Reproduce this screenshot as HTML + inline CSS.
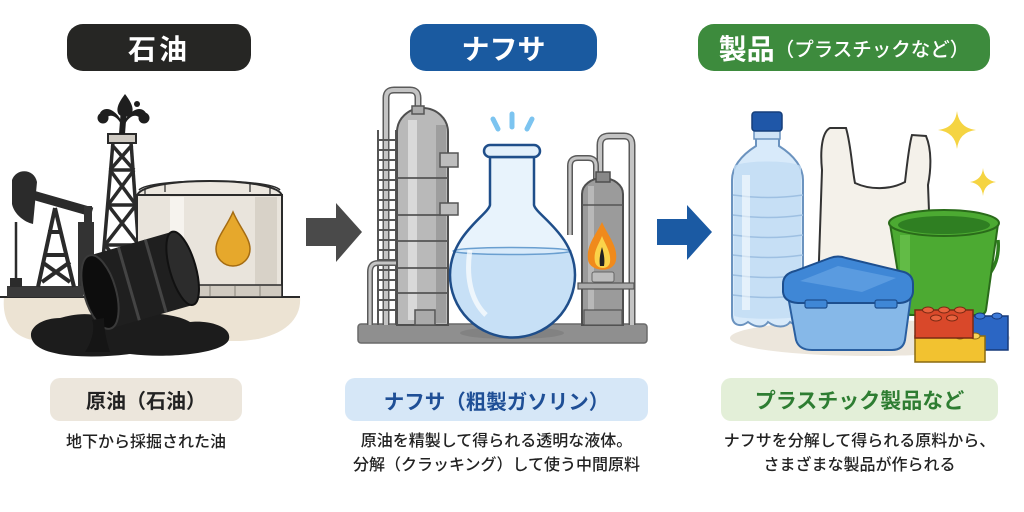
<!DOCTYPE html>
<html><head><meta charset="utf-8">
<style>
*{margin:0;padding:0;box-sizing:border-box}
body{width:1024px;height:512px;background:#fff;position:relative;overflow:hidden;font-family:"Liberation Sans","Noto Sans CJK JP",sans-serif}
.pill{position:absolute;top:24px;height:47px;border-radius:16px;color:#fff;font-weight:700;display:flex;align-items:center;justify-content:center;white-space:nowrap}
.box{position:absolute;top:378px;height:43px;border-radius:10px;font-weight:700;display:flex;align-items:center;justify-content:center;white-space:nowrap}
.desc{position:absolute;font-size:16px;color:#222;text-align:center;line-height:24px;white-space:nowrap;font-weight:500}
svg{position:absolute;left:0;top:0}
</style></head><body>
<svg width="1024" height="512" viewBox="0 0 1024 512">
<!-- ===== LEFT SCENE ===== -->
<path d="M4,297 H300 C302,320 282,339 240,341 H40 C10,339 2,318 4,297 Z" fill="#ece3d3"/>
<line x1="0" y1="297" x2="300" y2="297" stroke="#2a2a2a" stroke-width="2"/>
<!-- pumpjack -->
<rect x="7" y="286" width="76" height="11" fill="#3a3a3a"/>
<g stroke="#2a2a2a" stroke-width="4" fill="none">
<line x1="38" y1="287" x2="55" y2="208"/>
<line x1="74" y1="287" x2="55" y2="208"/>
<line x1="44" y1="255" x2="68" y2="255"/>
<line x1="42" y1="262" x2="70" y2="282"/>
<line x1="70" y1="262" x2="42" y2="282"/>
<line x1="48" y1="232" x2="62" y2="232"/>
</g>
<line x1="22" y1="192" x2="92" y2="212" stroke="#2b2b2b" stroke-width="9"/>
<path d="M12,180 C16,168 34,168 37,182 L33,224 C24,222 14,214 12,204 Z" fill="#2b2b2b"/>
<line x1="16" y1="222" x2="16" y2="287" stroke="#2b2b2b" stroke-width="2.5"/>
<rect x="10" y="278" width="12" height="9" fill="#2b2b2b"/>
<rect x="78" y="222" width="16" height="64" fill="#333"/>
<rect x="84" y="206" width="8" height="18" fill="#333"/>
<!-- derrick -->
<g stroke="#2a2a2a" stroke-width="3.5" fill="none">
<line x1="100" y1="294" x2="113" y2="142"/>
<line x1="142" y1="294" x2="131" y2="142"/>
<line x1="113" y1="142" x2="131" y2="142"/>
<line x1="111" y1="170" x2="133" y2="170"/>
<line x1="108" y1="205" x2="136" y2="205"/>
<line x1="105" y1="245" x2="139" y2="245"/>
<line x1="112" y1="145" x2="134" y2="170"/>
<line x1="132" y1="145" x2="110" y2="170"/>
<line x1="110" y1="170" x2="136" y2="205"/>
<line x1="134" y1="170" x2="108" y2="205"/>
<line x1="108" y1="205" x2="139" y2="245"/>
<line x1="136" y1="205" x2="105" y2="245"/>
<line x1="105" y1="245" x2="142" y2="292"/>
<line x1="139" y1="245" x2="100" y2="292"/>
</g>
<rect x="108" y="134" width="28" height="9" fill="#cfcac2" stroke="#2a2a2a" stroke-width="2"/>
<!-- gusher -->
<g fill="#1e1e1e">
<path d="M119,134 L121,108 L127,108 L125,134 Z"/>
<path d="M125,94 C119,102 116,108 118,113 C120,118 130,118 132,113 C134,108 131,102 125,94 Z"/>
<path d="M121,120 C114,108 104,106 100,113 L106,118 C110,114 116,115 121,124 Z"/>
<circle cx="103" cy="118" r="5.5"/>
<path d="M125,120 C132,108 142,106 146,113 L140,118 C136,114 130,115 125,124 Z"/>
<circle cx="144" cy="118" r="5.5"/>
<circle cx="137" cy="104" r="3"/>
</g>
<!-- tank -->
<path d="M137,196 C140,176 280,176 282,196 Z" fill="#ece7df" stroke="#2a2a2a" stroke-width="2"/>
<rect x="137" y="195" width="145" height="102" fill="#e9e4dc" stroke="#2a2a2a" stroke-width="2"/>
<rect x="170" y="197" width="14" height="88" fill="#f6f3ee"/>
<rect x="255" y="197" width="22" height="88" fill="#d8d2c8"/>
<path d="M139,190 C150,178 270,178 280,190" fill="none" stroke="#2a2a2a" stroke-width="1.5"/>
<g stroke="#2a2a2a" stroke-width="1.2"><line x1="145" y1="188" x2="145" y2="196"/><line x1="165" y1="183" x2="165" y2="192"/><line x1="250" y1="183" x2="250" y2="192"/><line x1="270" y1="186" x2="270" y2="195"/></g>
<rect x="137" y="285" width="145" height="12" fill="#d0cac0" stroke="#2a2a2a" stroke-width="1.5"/>
<g stroke="#8a857c" stroke-width="1"><line x1="160" y1="286" x2="160" y2="296"/><line x1="185" y1="286" x2="185" y2="296"/><line x1="210" y1="286" x2="210" y2="296"/><line x1="235" y1="286" x2="235" y2="296"/><line x1="260" y1="286" x2="260" y2="296"/></g>
<path d="M233,212 C226,228 216,238 216,249 A17,17 0 0 0 250,249 C250,238 240,228 233,212 Z" fill="#e6a82c" stroke="#a56c12" stroke-width="1.5"/>
<!-- puddle -->
<path d="M60,318 C40,318 24,330 34,343 C45,357 90,359 130,354 C170,359 226,353 229,339 C232,325 205,320 190,322 C170,310 120,312 100,316 C85,312 70,315 60,318 Z" fill="#1c1c1c"/>
<!-- barrel -->
<g transform="translate(100,292) rotate(-16)">
<rect x="0" y="-38" width="86" height="76" fill="#1f1f1f"/>
<ellipse cx="86" cy="0" rx="13" ry="38" fill="#2c2c2c" stroke="#111" stroke-width="2"/>
<line x1="30" y1="-38" x2="30" y2="38" stroke="#444" stroke-width="3"/>
<line x1="58" y1="-38" x2="58" y2="38" stroke="#444" stroke-width="3"/>
<ellipse cx="0" cy="0" rx="16" ry="38" fill="#0d0d0d" stroke="#3a3a3a" stroke-width="2"/>
</g>
<path d="M92,320 C96,330 90,345 85,352 L110,352 C106,340 104,328 104,318 Z" fill="#151515"/>

<!-- arrows -->
<path d="M306,218 H336 V203 L362,232 L336,262 V246 H306 Z" fill="#4a4a4a"/>
<path d="M657,219 H687 V205 L712,232 L687,260 V245 H657 Z" fill="#1b5aa3"/>

<!-- ===== MIDDLE SCENE ===== -->
<rect x="358" y="324" width="289" height="19" rx="3" fill="#8f8f8f" stroke="#6a6a6a" stroke-width="1.5"/>
<path d="M386,325 V98 Q386,90 394,90 H410 Q418,90 418,98 V112" fill="none" stroke="#5a5a5a" stroke-width="7"/>
<path d="M386,325 V98 Q386,90 394,90 H410 Q418,90 418,98 V112" fill="none" stroke="#c4c4c4" stroke-width="4"/>
<g stroke="#555" stroke-width="2"><line x1="378" y1="130" x2="378" y2="325"/><line x1="396" y1="130" x2="396" y2="325"/>
<line x1="378" y1="140" x2="396" y2="140"/><line x1="378" y1="150" x2="396" y2="150"/><line x1="378" y1="160" x2="396" y2="160"/><line x1="378" y1="170" x2="396" y2="170"/><line x1="378" y1="180" x2="396" y2="180"/><line x1="378" y1="190" x2="396" y2="190"/><line x1="378" y1="200" x2="396" y2="200"/><line x1="378" y1="210" x2="396" y2="210"/><line x1="378" y1="220" x2="396" y2="220"/><line x1="378" y1="230" x2="396" y2="230"/><line x1="378" y1="240" x2="396" y2="240"/><line x1="378" y1="250" x2="396" y2="250"/><line x1="378" y1="260" x2="396" y2="260"/><line x1="378" y1="270" x2="396" y2="270"/><line x1="378" y1="280" x2="396" y2="280"/><line x1="378" y1="290" x2="396" y2="290"/><line x1="378" y1="300" x2="396" y2="300"/><line x1="378" y1="310" x2="396" y2="310"/></g>
<path d="M370,325 V272 Q370,263 378,263 H398" fill="none" stroke="#5a5a5a" stroke-width="6"/>
<path d="M370,325 V272 Q370,263 378,263 H398" fill="none" stroke="#c4c4c4" stroke-width="3"/>
<path d="M397,325 V132 A25.5,24 0 0 1 448,132 V325 Z" fill="#b9b9b9" stroke="#4f4f4f" stroke-width="2"/>
<rect x="408" y="120" width="9" height="200" fill="#d9d9d9"/>
<rect x="436" y="125" width="10" height="198" fill="#9e9e9e"/>
<g stroke="#555" stroke-width="1.8"><line x1="397" y1="178" x2="448" y2="178"/><line x1="397" y1="215" x2="448" y2="215"/><line x1="397" y1="241" x2="448" y2="241"/><line x1="397" y1="268" x2="448" y2="268"/><line x1="397" y1="293" x2="448" y2="293"/></g>
<rect x="440" y="153" width="18" height="14" fill="#bdbdbd" stroke="#555" stroke-width="1.5"/>
<rect x="440" y="203" width="18" height="12" fill="#bdbdbd" stroke="#555" stroke-width="1.5"/>
<rect x="412" y="106" width="12" height="8" fill="#aaa" stroke="#555" stroke-width="1.5"/>
<rect x="415" y="310" width="20" height="15" fill="#aaa" stroke="#555" stroke-width="1.5"/>
<path d="M600,182 V145 Q600,136 609,136 H624 Q632,136 632,145 V325" fill="none" stroke="#5a5a5a" stroke-width="7"/>
<path d="M600,182 V145 Q600,136 609,136 H624 Q632,136 632,145 V325" fill="none" stroke="#c4c4c4" stroke-width="4"/>
<path d="M570,235 V166 Q570,158 578,158 H588 Q596,158 596,166 V180" fill="none" stroke="#5a5a5a" stroke-width="6"/>
<path d="M570,235 V166 Q570,158 578,158 H588 Q596,158 596,166 V180" fill="none" stroke="#c4c4c4" stroke-width="3"/>
<path d="M582,325 V194 A20.5,16 0 0 1 623,194 V325 Z" fill="#9b9b9b" stroke="#4f4f4f" stroke-width="2"/>
<rect x="588" y="186" width="6" height="130" fill="#b8b8b8"/>
<rect x="596" y="172" width="14" height="10" fill="#888" stroke="#4f4f4f" stroke-width="1.5"/>
<line x1="582" y1="205" x2="623" y2="205" stroke="#555" stroke-width="1.5"/>
<rect x="578" y="283" width="56" height="6" fill="#aaa" stroke="#555" stroke-width="1.2"/>
<rect x="584" y="310" width="38" height="15" fill="#999" stroke="#555" stroke-width="1.2"/>
<rect x="592" y="272" width="22" height="10" rx="2" fill="#bdbdbd" stroke="#666" stroke-width="1"/>
<path d="M602,222 C596,235 586,245 588,260 C590,272 614,274 616,260 C618,246 608,236 602,222 Z" fill="#f08a1c"/>
<path d="M602,236 C598,246 593,252 595,262 C597,270 609,270 610,262 C611,252 606,246 602,236 Z" fill="#fbd34a"/>
<path d="M602,247 C600,254 599,260 600,266 L604,266 C605,260 604,254 602,247 Z" fill="#222"/>
<ellipse cx="512" cy="333" rx="52" ry="6" fill="#7a7a7a" opacity="0.6"/>
<defs><clipPath id="fc"><path d="M490,157 V205 C488,215 450,235 450,275 A62,62 0 0 0 575,275 C575,235 536,215 534,205 V157 Z"/></clipPath></defs>
<path d="M490,157 V205 C488,215 450,235 450,275 A62,62 0 0 0 575,275 C575,235 536,215 534,205 V157 Z" fill="#e8f3fc"/>
<rect x="440" y="251" width="145" height="100" fill="#c7e0f6" clip-path="url(#fc)"/>
<ellipse cx="512" cy="251" rx="59" ry="3.5" fill="#d8eafa" stroke="#6a9fd0" stroke-width="1.5"/>
<path d="M470,250 C466,275 470,300 486,315" fill="none" stroke="#fff" stroke-width="5" opacity="0.7"/>
<path d="M490,157 V205 C488,215 450,235 450,275 A62,62 0 0 0 575,275 C575,235 536,215 534,205 V157 Z" fill="none" stroke="#1f4e8a" stroke-width="2.5"/>
<rect x="484" y="145" width="56" height="12" rx="6" fill="#e3f0fb" stroke="#1f4e8a" stroke-width="2.5"/>
<g stroke="#7cc4f0" stroke-width="5" stroke-linecap="round"><line x1="493" y1="119" x2="498" y2="129"/><line x1="512" y1="114" x2="512" y2="127"/><line x1="532" y1="119" x2="527" y2="129"/></g>

<!-- ===== RIGHT SCENE ===== -->
<ellipse cx="870" cy="338" rx="140" ry="18" fill="#ece6dc"/>
<path d="M818,290 L822,170 C820,150 822,132 830,128 L846,128 C851,145 852,168 855,183 C870,190 890,190 905,182 C907,165 909,145 912,135 L926,136 C932,150 931,170 928,185 L932,290 Z" fill="#f4f1ea" stroke="#333" stroke-width="2"/>
<path d="M756,138 V146 C740,156 732,168 732,180 V315 C732,325 740,328 748,322 C756,328 764,328 768,322 C776,328 786,328 790,322 C798,328 803,322 803,315 V180 C803,168 795,156 779,146 V138 Z" fill="#d8eafa" stroke="#6b93bf" stroke-width="2"/>
<path d="M734,166 C745,160 790,160 801,166 V315 C801,320 733,320 734,315 Z" fill="#c2dcf4" opacity="0.8"/>
<g stroke="#9ec0e2" stroke-width="1.5" fill="none"><path d="M733,195 Q768,200 803,195"/><path d="M733,215 Q768,220 803,215"/><path d="M733,235 Q768,240 803,235"/><path d="M733,255 Q768,260 803,255"/><path d="M733,275 Q768,280 803,275"/><path d="M733,295 Q768,300 803,295"/></g>
<rect x="742" y="175" width="8" height="135" fill="#fff" opacity="0.55"/>
<rect x="754" y="130" width="26" height="9" fill="#cfe3f6" stroke="#6b93bf" stroke-width="1.5"/>
<rect x="752" y="112" width="30" height="19" rx="3" fill="#1f57a8" stroke="#163f7a" stroke-width="1.5"/>
<path d="M998,240 C1002,285 960,302 905,292" fill="none" stroke="#2e7d1e" stroke-width="3.5"/>
<path d="M890,224 L904,310 Q905,315 912,315 L978,315 Q985,315 986,310 L998,224 Z" fill="#4caa32" stroke="#2a6b1a" stroke-width="2"/>
<rect x="900" y="235" width="10" height="72" fill="#6cc24f" opacity="0.7"/>
<ellipse cx="944" cy="223" rx="55" ry="13" fill="#4caa32" stroke="#2a6b1a" stroke-width="2"/>
<ellipse cx="944" cy="225" rx="46" ry="9" fill="#2f7f22"/>
<path d="M788,296 L796,340 Q799,350 812,350 L892,350 Q903,350 905,340 L911,296 Z" fill="#86b8e8" stroke="#2a5fa0" stroke-width="2"/>
<path d="M783,284 Q783,274 795,271 L830,258 Q838,255 846,258 L904,272 Q913,275 913,284 L913,292 Q912,302 900,303 L798,303 Q784,302 783,292 Z" fill="#3f87d6" stroke="#1d4f8f" stroke-width="2"/>
<path d="M800,281 L838,266 L896,278 L862,292 Z" fill="#5a9be0"/>
<rect x="805" y="300" width="22" height="8" rx="2" fill="#3f87d6" stroke="#1d4f8f" stroke-width="1.2"/>
<rect x="875" y="300" width="22" height="8" rx="2" fill="#3f87d6" stroke="#1d4f8f" stroke-width="1.2"/>
<rect x="970" y="316" width="38" height="34" fill="#2b66c4" stroke="#173a7a" stroke-width="1.5"/>
<ellipse cx="980" cy="316" rx="5" ry="3" fill="#3d7ad8" stroke="#173a7a"/><ellipse cx="997" cy="316" rx="5" ry="3" fill="#3d7ad8" stroke="#173a7a"/>
<rect x="915" y="336" width="70" height="26" fill="#f2c230" stroke="#8a6a10" stroke-width="1.5"/>
<ellipse cx="960" cy="336" rx="5" ry="3" fill="#f7d45a" stroke="#8a6a10"/><ellipse cx="975" cy="336" rx="5" ry="3" fill="#f7d45a" stroke="#8a6a10"/>
<rect x="915" y="310" width="58" height="28" fill="#d9482a" stroke="#7a2a14" stroke-width="1.5"/>
<g fill="#e8623e" stroke="#7a2a14"><ellipse cx="928" cy="310" rx="5.5" ry="3"/><ellipse cx="944" cy="310" rx="5.5" ry="3"/><ellipse cx="960" cy="310" rx="5.5" ry="3"/><ellipse cx="936" cy="318" rx="5.5" ry="3"/><ellipse cx="952" cy="318" rx="5.5" ry="3"/></g>
<path d="M957,111 Q959,128 976,130 Q959,132 957,149 Q955,132 938,130 Q955,128 957,111 Z" fill="#f5d442"/>
<path d="M983,168 Q984,180 996,182 Q984,184 983,196 Q982,184 970,182 Q982,180 983,168 Z" fill="#f5d442"/>
</svg>

<div class="pill" style="left:67px;width:184px;background:#262624;font-size:28px;letter-spacing:3px">石油</div>
<div class="pill" style="left:410px;width:187px;background:#1a5aa0;font-size:28px">ナフサ</div>
<div class="pill" style="left:698px;width:292px;background:#3d8b3d;font-size:28px">製品<span style="font-size:19.5px;font-weight:500">（プラスチックなど）</span></div>

<div class="box" style="left:50px;width:192px;background:#ece6dc;color:#222;font-size:20px">原油（石油）</div>
<div class="box" style="left:345px;width:303px;background:#d6e7f7;color:#1f4f96;font-size:20.5px">ナフサ（粗製ガソリン）</div>
<div class="box" style="left:721px;width:277px;background:#e3efd8;color:#2e7d32;font-size:21px">プラスチック製品など</div>

<div class="desc" style="left:50px;width:192px;top:431px">地下から採掘された油</div>
<div class="desc" style="left:345px;width:303px;top:430px">原油を精製して得られる透明な液体。<br>分解（クラッキング）して使う中間原料</div>
<div class="desc" style="left:721px;width:277px;top:430px">ナフサを分解して得られる原料から、<br>さまざまな製品が作られる</div>
</body></html>
